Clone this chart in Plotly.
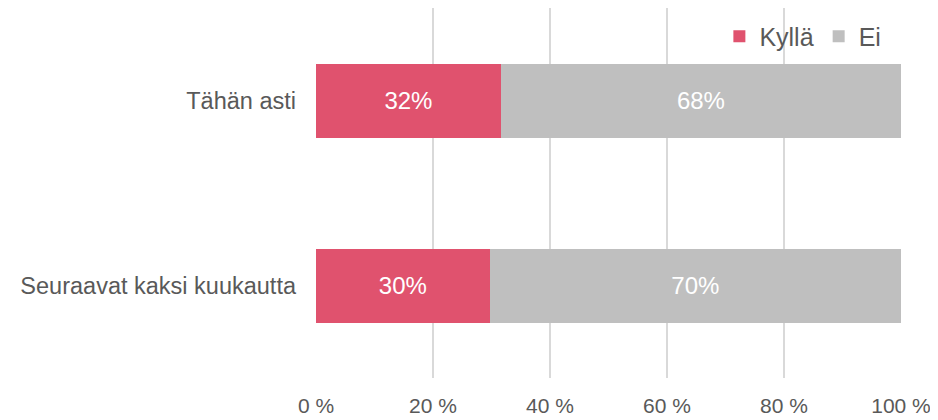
import plotly.graph_objects as go

categories = ["Tähän asti", "Seuraavat kaksi kuukautta"]
kylla = [31.6, 29.7]
ei = [68.4, 70.3]
tick_vals = [0, 20, 40, 60, 80, 100]
tick_text = ["0 %", "20 %", "40 %", "60 %", "80 %", "100 %"]

font = "Liberation Sans, Arial, sans-serif"
grey_text = "#595959"

fig = go.Figure()
fig.add_trace(go.Bar(
    y=categories, x=kylla, name="Kyllä", orientation="h",
    marker=dict(color="#E0526E", line=dict(width=0)),
    texttemplate="%{x:.0f}%", textposition="inside", insidetextanchor="middle",
    textfont=dict(color="white", size=24, family=font),
    width=0.4,
))
fig.add_trace(go.Bar(
    y=categories, x=ei, name="Ei", orientation="h",
    marker=dict(color="#BFBFBF", line=dict(width=0)),
    texttemplate="%{x:.0f}%", textposition="inside", insidetextanchor="middle",
    textfont=dict(color="white", size=24, family=font),
    width=0.4,
))

# the page body has an 8px margin, so the plot is laid out 8px up and left
fig.update_layout(
    barmode="stack",
    width=938, height=420,
    margin=dict(l=308, r=45, t=0, b=50),
    plot_bgcolor="white", paper_bgcolor="white",
    font=dict(family=font, color=grey_text, size=22),
    legend=dict(orientation="h", x=0.975, xanchor="right", y=0.985, yanchor="top",
                bgcolor="rgba(0,0,0,0)", font=dict(size=25, color=grey_text),
                itemwidth=30, traceorder="normal"),
    uniformtext=dict(mode="show", minsize=10),
)
fig.update_xaxes(
    range=[0, 100], tickvals=tick_vals, ticktext=tick_text,
    showgrid=True, gridcolor="#D9D9D9", gridwidth=2,
    zeroline=False, showline=False,
    tickfont=dict(size=21, color=grey_text), ticklabelstandoff=13,
)
fig.update_yaxes(
    autorange="reversed", showgrid=False, zeroline=False, showline=False,
    tickfont=dict(size=23.5, color=grey_text), ticklabelstandoff=19,
)

fig.write_html("out.html")
